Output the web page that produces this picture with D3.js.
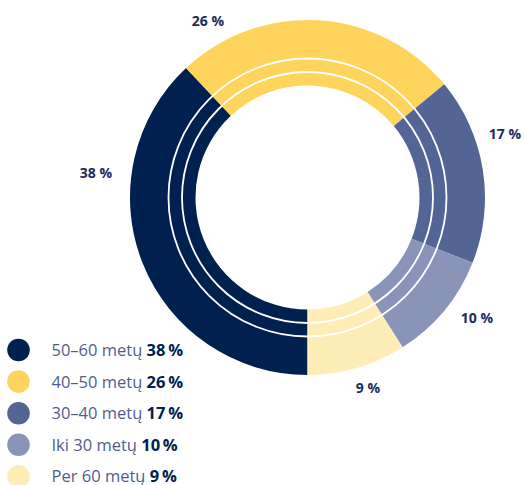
<!DOCTYPE html>
<html>
<head>
<meta charset="utf-8">
<script src="https://cdn.jsdelivr.net/npm/d3@7"></script>
<style>
	body { margin: 0; background: #fff; }
	text { font-family: "Open Sans", sans-serif; }
</style>
</head>
<body>
<div id="chart"></div>
<script>
const categories = ["50–60 metų", "40–50 metų", "30–40 metų", "Iki 30 metų", "Per 60 metų"];
const values = [38, 26, 17, 10, 9];
const colors = ["#00214f", "#ffd45c", "#536594", "#8a93b8", "#ffedb8"];
// label positions (centre x, baseline y)
const labelPos = [[96, 178], [208, 25.5], [505, 139], [477, 323], [368, 393]];

const width = 525, height = 485;
const cx = 307.5, cy = 197.5;
const outerR = 177.5, innerR = 112;
const ringLines = [125.5, 139];

const svg = d3.select("#chart")
	.append("svg")
	.attr("width", width)
	.attr("height", height);

const data = categories.map((c, i) => ({cat: c, value: values[i], color: colors[i], pos: labelPos[i]}));

const pie = d3.pie()
	.value(d => d.value)
	.sort(null)
	.startAngle(Math.PI)
	.endAngle(3 * Math.PI);

const arc = d3.arc().innerRadius(innerR).outerRadius(outerR);

const g = svg.append("g").attr("transform", "translate(" + cx + "," + cy + ")");

g.selectAll("path.slice")
	.data(pie(data))
	.enter()
	.append("path")
	.attr("class", "slice")
	.attr("d", arc)
	.attr("fill", d => d.data.color);

g.selectAll("circle.ring")
	.data(ringLines)
	.enter()
	.append("circle")
	.attr("class", "ring")
	.attr("r", d => d)
	.attr("fill", "none")
	.attr("stroke", "#fff")
	.attr("stroke-width", 1.8);

svg.selectAll("text.pct")
	.data(data)
	.enter()
	.append("text")
	.attr("class", "pct")
	.attr("x", d => d.pos[0])
	.attr("y", d => d.pos[1])
	.attr("text-anchor", "middle")
	.attr("font-size", 14)
	.attr("font-weight", 700)
	.attr("fill", "#1b2b5c")
	.text(d => d.value + " %");

// legend
const legend = svg.append("g").attr("transform", "translate(18.5,350)");
const rowH = 31.6;

const rows = legend.selectAll("g.row")
	.data(data)
	.enter()
	.append("g")
	.attr("class", "row")
	.attr("transform", (d, i) => "translate(0," + (i * rowH) + ")");

rows.append("circle")
	.attr("r", 11.3)
	.attr("fill", d => d.color);

const txt = rows.append("text")
	.attr("x", 33)
	.attr("y", 6)
	.attr("font-size", 16.5)
	.attr("fill", "#4f5e8e");

txt.append("tspan").text(d => d.cat + " ");
txt.append("tspan")
	.attr("font-weight", 700)
	.attr("fill", "#00214f")
	.text(d => d.value + "\u2009%");
</script>
</body>
</html>
